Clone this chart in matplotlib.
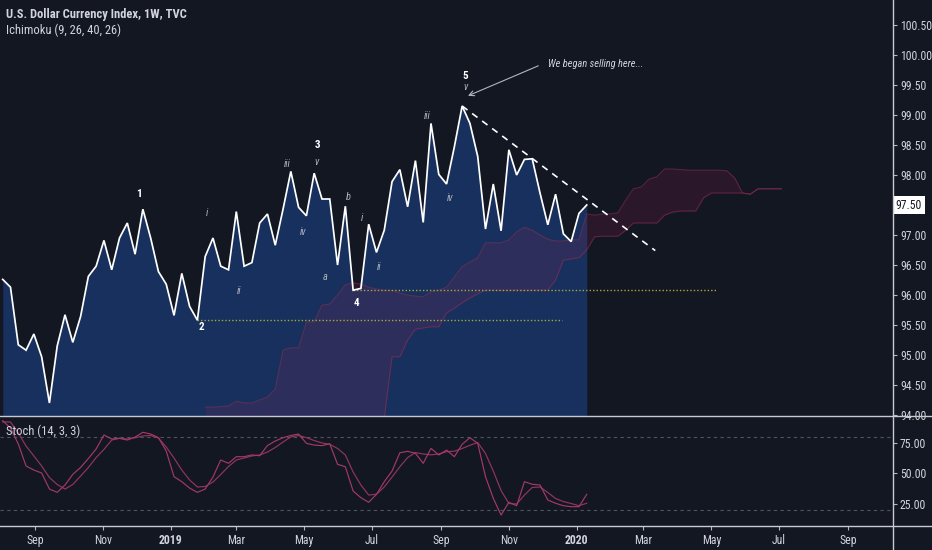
import datetime as dt
import numpy as np
import matplotlib
matplotlib.use("Agg")
import matplotlib.pyplot as plt
from matplotlib.lines import Line2D
import matplotlib.transforms as mtransforms
from matplotlib import font_manager as fm

BG = "#131722"
TXT = "#d1d4dc"
AXC = "#c8cad0"

# ---------------- font selection (narrow face if available) ----------------
def _find_narrow(weight, style):
    for fam in ["Liberation Sans Narrow", "Roboto Condensed", "Noto Sans",
                "Open Sans", "DejaVu Sans", "Liberation Sans"]:
        try:
            p = fm.findfont(fm.FontProperties(family=fam, stretch="condensed",
                                              weight=weight, style=style),
                            fallback_to_default=False)
        except Exception:
            continue
        low = p.lower()
        if "narrow" in low or "condensed" in low:
            return p
    return None

_cache = {}
def fp(size, weight="normal", style="normal"):
    key = (weight, style)
    if key not in _cache:
        _cache[key] = _find_narrow(weight, style)
    path = _cache[key]
    if path:
        return fm.FontProperties(fname=path, size=size)
    return fm.FontProperties(family=["Roboto", "DejaVu Sans"], weight=weight,
                             style=style, size=size * 0.88)

plt.rcParams["font.family"] = ["Roboto", "DejaVu Sans"]

# ---------------- data ----------------
start_date = dt.date(2018, 8, 3)          # first weekly bar
prices = [96.26, 96.13, 95.17, 95.08, 95.35, 94.97, 94.2, 95.15, 95.67, 95.21,
          95.64, 96.31, 96.48, 96.91, 96.42, 96.95, 97.2, 96.68, 97.43, 96.95,
          96.39, 96.18, 95.66, 96.36, 95.81, 95.58, 96.64, 96.95, 96.48, 96.42,
          97.39, 96.48, 96.54, 97.2, 97.35, 96.83, 97.43, 98.06, 97.46, 97.32,
          98.03, 97.6, 97.6, 96.5, 97.48, 96.08, 96.11, 97.18, 96.71, 97.08,
          97.89, 98.09, 97.47, 98.24, 97.21, 98.86, 98.01, 97.85, 98.47, 99.15,
          98.86, 98.31, 97.1, 97.85, 97.07, 98.42, 98.0, 98.26, 98.27, 97.7,
          97.17, 97.68, 97.02, 96.89, 97.36, 97.5]

stoch_k = [93, 87, 74, 56, 52.7, 50.3, 37.2, 34.5, 40.5, 49.2,
           54.8, 62.1, 69.9, 81.3, 78, 78.6, 77.2, 79.6, 83.5, 82.1,
           79.2, 68.2, 47.3, 43.2, 38, 34.5, 37.2, 47, 60.9, 58.2,
           63.6, 63.6, 65, 64.4, 72.7, 76.4, 79.1, 80.9, 82.1, 74.5,
           73.1, 72.6, 74.2, 57.4, 55.4, 35.6, 30.1, 26.4, 32.9, 43.2,
           51.9, 66.8, 68, 66.4, 58.2, 70.4, 65, 69, 63.6, 73.7,
           79.1, 74.5, 47.3, 29.6, 16, 26.4, 23.6, 43.2, 41.1, 40.5,
           28.3, 25.6, 23.6, 22.8, 22.8, 32.9]

stoch_d = [92, 91.9, 82.9, 72.3, 64.2, 56, 46.6, 40.9, 37.2, 40.9,
           47.8, 54.8, 62.9, 69.5, 77.2, 78.6, 78, 79.1, 80.5, 80.9,
           78.8, 71.5, 62.5, 52.7, 44.6, 38.9, 39.3, 42.9, 49.1, 55.6,
           60.9, 62.5, 64.2, 65, 67.4, 71.1, 75.6, 79.7, 80.9, 79.2,
           76.8, 74.8, 73.7, 70.3, 65, 51.1, 40.5, 32.3, 33, 38.9,
           47, 55.4, 62.9, 67, 65.8, 65.1, 65.8, 67.7, 68.1, 70.3,
           72.9, 75.2, 66.2, 51.9, 36, 25.4, 25, 32.3, 38.5, 38.9,
           34.4, 29.5, 27, 25.4, 23.6, 25.6]

cloud_first_bar = 26
lead_upper = [94.13, 94.13, 94.14, 94.15, 94.23, 94.2, 94.2, 94.25, 94.3, 94.43,
              95.08, 95.12, 95.12, 95.55, 95.55, 95.83, 95.85, 96.0, 96.17, 96.2,
              96.18, 96.13, 96.1, 96.08, 96.08, 96.03, 96.0, 95.98, 95.97, 96.05,
              96.08, 96.13, 96.3, 96.47, 96.55, 96.62, 96.87, 96.87, 96.87, 96.92,
              97.05, 97.13, 97.08, 97.0, 96.93, 96.9, 96.9, 96.92, 96.92, 97.35,
              97.33, 97.35, 97.35, 97.37, 97.58, 97.77, 97.8, 97.93, 97.97, 98.1,
              98.1, 98.09, 98.08, 98.08, 98.08, 98.08, 98.08, 98.07, 97.95, 97.7,
              97.68, 97.77, 97.77, 97.77, 97.77]
lead_lower = [93.5, 93.5, 93.5, 93.5, 93.5, 93.5, 93.5, 93.5, 93.5, 93.5,
              93.5, 93.5, 93.5, 93.5, 93.5, 93.5, 93.5, 93.5, 93.5, 93.5,
              93.5, 93.5, 93.5, 93.95, 94.97, 94.97, 95.25, 95.43, 95.45, 95.47,
              95.47, 95.7, 95.78, 95.87, 95.95, 96.02, 96.08, 96.08, 96.08, 96.08,
              96.08, 96.08, 96.08, 96.08, 96.08, 96.25, 96.58, 96.6, 96.62, 96.75,
              96.97, 96.98, 96.98, 96.98, 97.08, 97.2, 97.2, 97.2, 97.2, 97.33,
              97.38, 97.4, 97.4, 97.4, 97.62, 97.7, 97.7, 97.7, 97.7, 97.7,
              97.68, 97.77, 97.77, 97.77, 97.77]

tick_dates = ["2018-09-01", "2018-11-01", "2019-01-01", "2019-03-01", "2019-05-01",
              "2019-07-01", "2019-09-01", "2019-11-01", "2020-01-01", "2020-03-01",
              "2020-05-01", "2020-07-01", "2020-09-01"]
tick_labels = ["Sep", "Nov", "2019", "Mar", "May", "Jul", "Sep", "Nov", "2020",
               "Mar", "May", "Jul", "Sep"]

price_ticks = [94.0, 94.5, 95.0, 95.5, 96.0, 96.5, 97.0, 97.5, 98.0, 98.5,
               99.0, 99.5, 100.0, 100.5]
stoch_ticks = [25, 50, 75]
stoch_bands = [80, 20]

# horizontal support levels: (from bar, to bar, level bar)
levels = [(25, 71.8, 25), (45, 91.7, 45)]
trend_from = (59, 99.15)
trend_to = (83.8, 96.74)

# wave labels: (bar position, price, text, is_main_wave)
wave_labels = [(17.5, 97.68, "1", True), (26.24, 97.37, "i", False),
               (30.35, 96.07, "ii", False), (25.47, 95.47, "2", True),
               (36.51, 98.18, "iii", False), (40.36, 98.50, "3", True),
               (40.36, 98.22, "v", False), (38.56, 97.05, "iv", False),
               (44.34, 97.63, "b", False), (41.39, 96.30, "a", False),
               (46.14, 97.28, "i", False), (48.32, 96.47, "ii", False),
               (45.37, 95.87, "4", True), (54.49, 98.98, "iii", False),
               (57.44, 97.62, "iv", False), (59.37, 99.65, "5", True),
               (59.37, 99.47, "v", False)]

# ---------------- figure ----------------
W, H = 932, 550
fig = plt.figure(figsize=(W / 100, H / 100), dpi=100, facecolor=BG)
plot_right = 893
sep1 = 416
sep2 = 525.7

ax = fig.add_axes([0, 1 - sep1 / H, plot_right / W, sep1 / H], facecolor=BG)
ax2 = fig.add_axes([0, 1 - sep2 / H, plot_right / W, (sep2 - sep1) / H], facecolor=BG)

x_left, x_right = -0.347, 114.33
for a in (ax, ax2):
    a.set_xlim(x_left, x_right)
    for s in a.spines.values():
        s.set_visible(False)

idx = np.arange(len(prices))
ylo, yhi = 93.983, 100.917
ax.set_ylim(ylo, yhi)

# area fill under price
ax.fill_between(idx, prices, ylo - 2, color="#17305d", lw=0, zorder=1)

# ichimoku cloud
cidx = np.arange(cloud_first_bar, cloud_first_bar + len(lead_upper))
ax.fill_between(cidx, lead_lower, lead_upper, color="#e91e63", alpha=0.11, lw=0, zorder=2)
ax.plot(cidx, lead_upper, color="#8e2f50", lw=0.8, alpha=0.55, zorder=2)
ax.plot(cidx, lead_lower, color="#8e2f50", lw=0.8, alpha=0.55, zorder=2)

# levels
for x0, x1, b in levels:
    ax.plot([x0, x1], [prices[b], prices[b]], color="#a6a83c", lw=1.0,
            ls=(0, (1, 1.5)), zorder=3)

# price line
ax.plot(idx, prices, color="white", lw=1.25, zorder=4, solid_joinstyle="miter")

# trend line
ax.plot([trend_from[0], trend_to[0]], [trend_from[1], trend_to[1]], color="white",
        lw=1.2, ls=(0, (4, 3.5)), zorder=4)

# arrow + comment
ax.annotate("", xy=(59.75, 99.32), xytext=(68.78, 99.82),
            arrowprops=dict(arrowstyle="->", color="#b2b5be", lw=0.8,
                            shrinkA=0, shrinkB=0, mutation_scale=9), zorder=5)
ax.text(70.03, 99.85, "We began selling here...", color="#d1d4dc",
        fontproperties=fp(7.5, style="italic"), va="center", ha="left", zorder=5)

for xb, yp, t, main in wave_labels:
    if main:
        ax.text(xb, yp, t, color="white", fontproperties=fp(8, weight="bold"),
                ha="center", va="center", zorder=6)
    else:
        ax.text(xb, yp, t, color="#b2b5be", fontproperties=fp(7.5, style="italic"),
                ha="center", va="center", zorder=6)

# right price axis
ax.yaxis.tick_right()
ax.set_yticks(price_ticks)
ax.set_yticklabels(["" if abs(v - prices[-1]) < 0.01 else f"{v:.2f}" for v in price_ticks])
ax.tick_params(axis="y", colors="#b2b5be", labelcolor=TXT, length=3, width=0.8, pad=2)
for lab in ax.get_yticklabels():
    lab.set_fontproperties(fp(8.5))
ax.set_xticks([])

trans = mtransforms.blended_transform_factory(ax.transAxes, ax.transData)
ax.text(1.003, prices[-1], f"{prices[-1]:.2f}", transform=trans, color=BG,
        fontproperties=fp(8.5), ha="left", va="center", zorder=10, clip_on=False,
        bbox=dict(boxstyle="square,pad=0.25", fc="white", ec="none"))

ax.text(0.0065, 0.965, "U.S. Dollar Currency Index, 1W, TVC", transform=ax.transAxes,
        color=TXT, fontproperties=fp(9, weight="bold"), ha="left", va="center")
ax.text(0.0065, 0.928, "Ichimoku (9, 26, 40, 26)", transform=ax.transAxes,
        color=TXT, fontproperties=fp(9), ha="left", va="center")

# stochastic panel
sidx = np.arange(len(stoch_k))
ax2.set_ylim(7.3, 96.8)
for b in stoch_bands:
    ax2.axhline(b, color="#50535e", lw=0.8, ls=(0, (3, 3)), zorder=1)
ax2.plot(sidx, stoch_d, color="#93355c", lw=0.85, zorder=3)
ax2.plot(sidx, stoch_k, color="#a33a63", lw=0.85, zorder=3)
ax2.yaxis.tick_right()
ax2.set_yticks(stoch_ticks)
ax2.set_yticklabels([f"{v:.2f}" for v in stoch_ticks])
ax2.tick_params(axis="y", colors="#b2b5be", labelcolor=TXT, length=3, width=0.8, pad=2)
for lab in ax2.get_yticklabels():
    lab.set_fontproperties(fp(8.5))
ax2.text(0.0065, 0.86, "Stoch (14, 3, 3)", transform=ax2.transAxes, color=TXT,
         fontproperties=fp(9), ha="left", va="center", zorder=6)

tick_pos = [(dt.date.fromisoformat(d) - start_date).days / 7 for d in tick_dates]
ax2.set_xticks(tick_pos)
ax2.set_xticklabels(tick_labels)
ax2.tick_params(axis="x", colors="#b2b5be", labelcolor=TXT, length=3, width=0.8, pad=3)
for lab in ax2.get_xticklabels():
    if lab.get_text().isdigit():
        lab.set_fontproperties(fp(8.5, weight="bold"))
    else:
        lab.set_fontproperties(fp(8.5))

# separators / axis lines
for yp in (sep1, sep2):
    fig.add_artist(Line2D([0, 1], [1 - yp / H, 1 - yp / H], color=AXC, lw=1.0,
                          transform=fig.transFigure))
fig.add_artist(Line2D([plot_right / W, plot_right / W], [0, 1], color=AXC, lw=1.0,
                      transform=fig.transFigure))

fig.savefig("out.png", dpi=100, facecolor=BG)
